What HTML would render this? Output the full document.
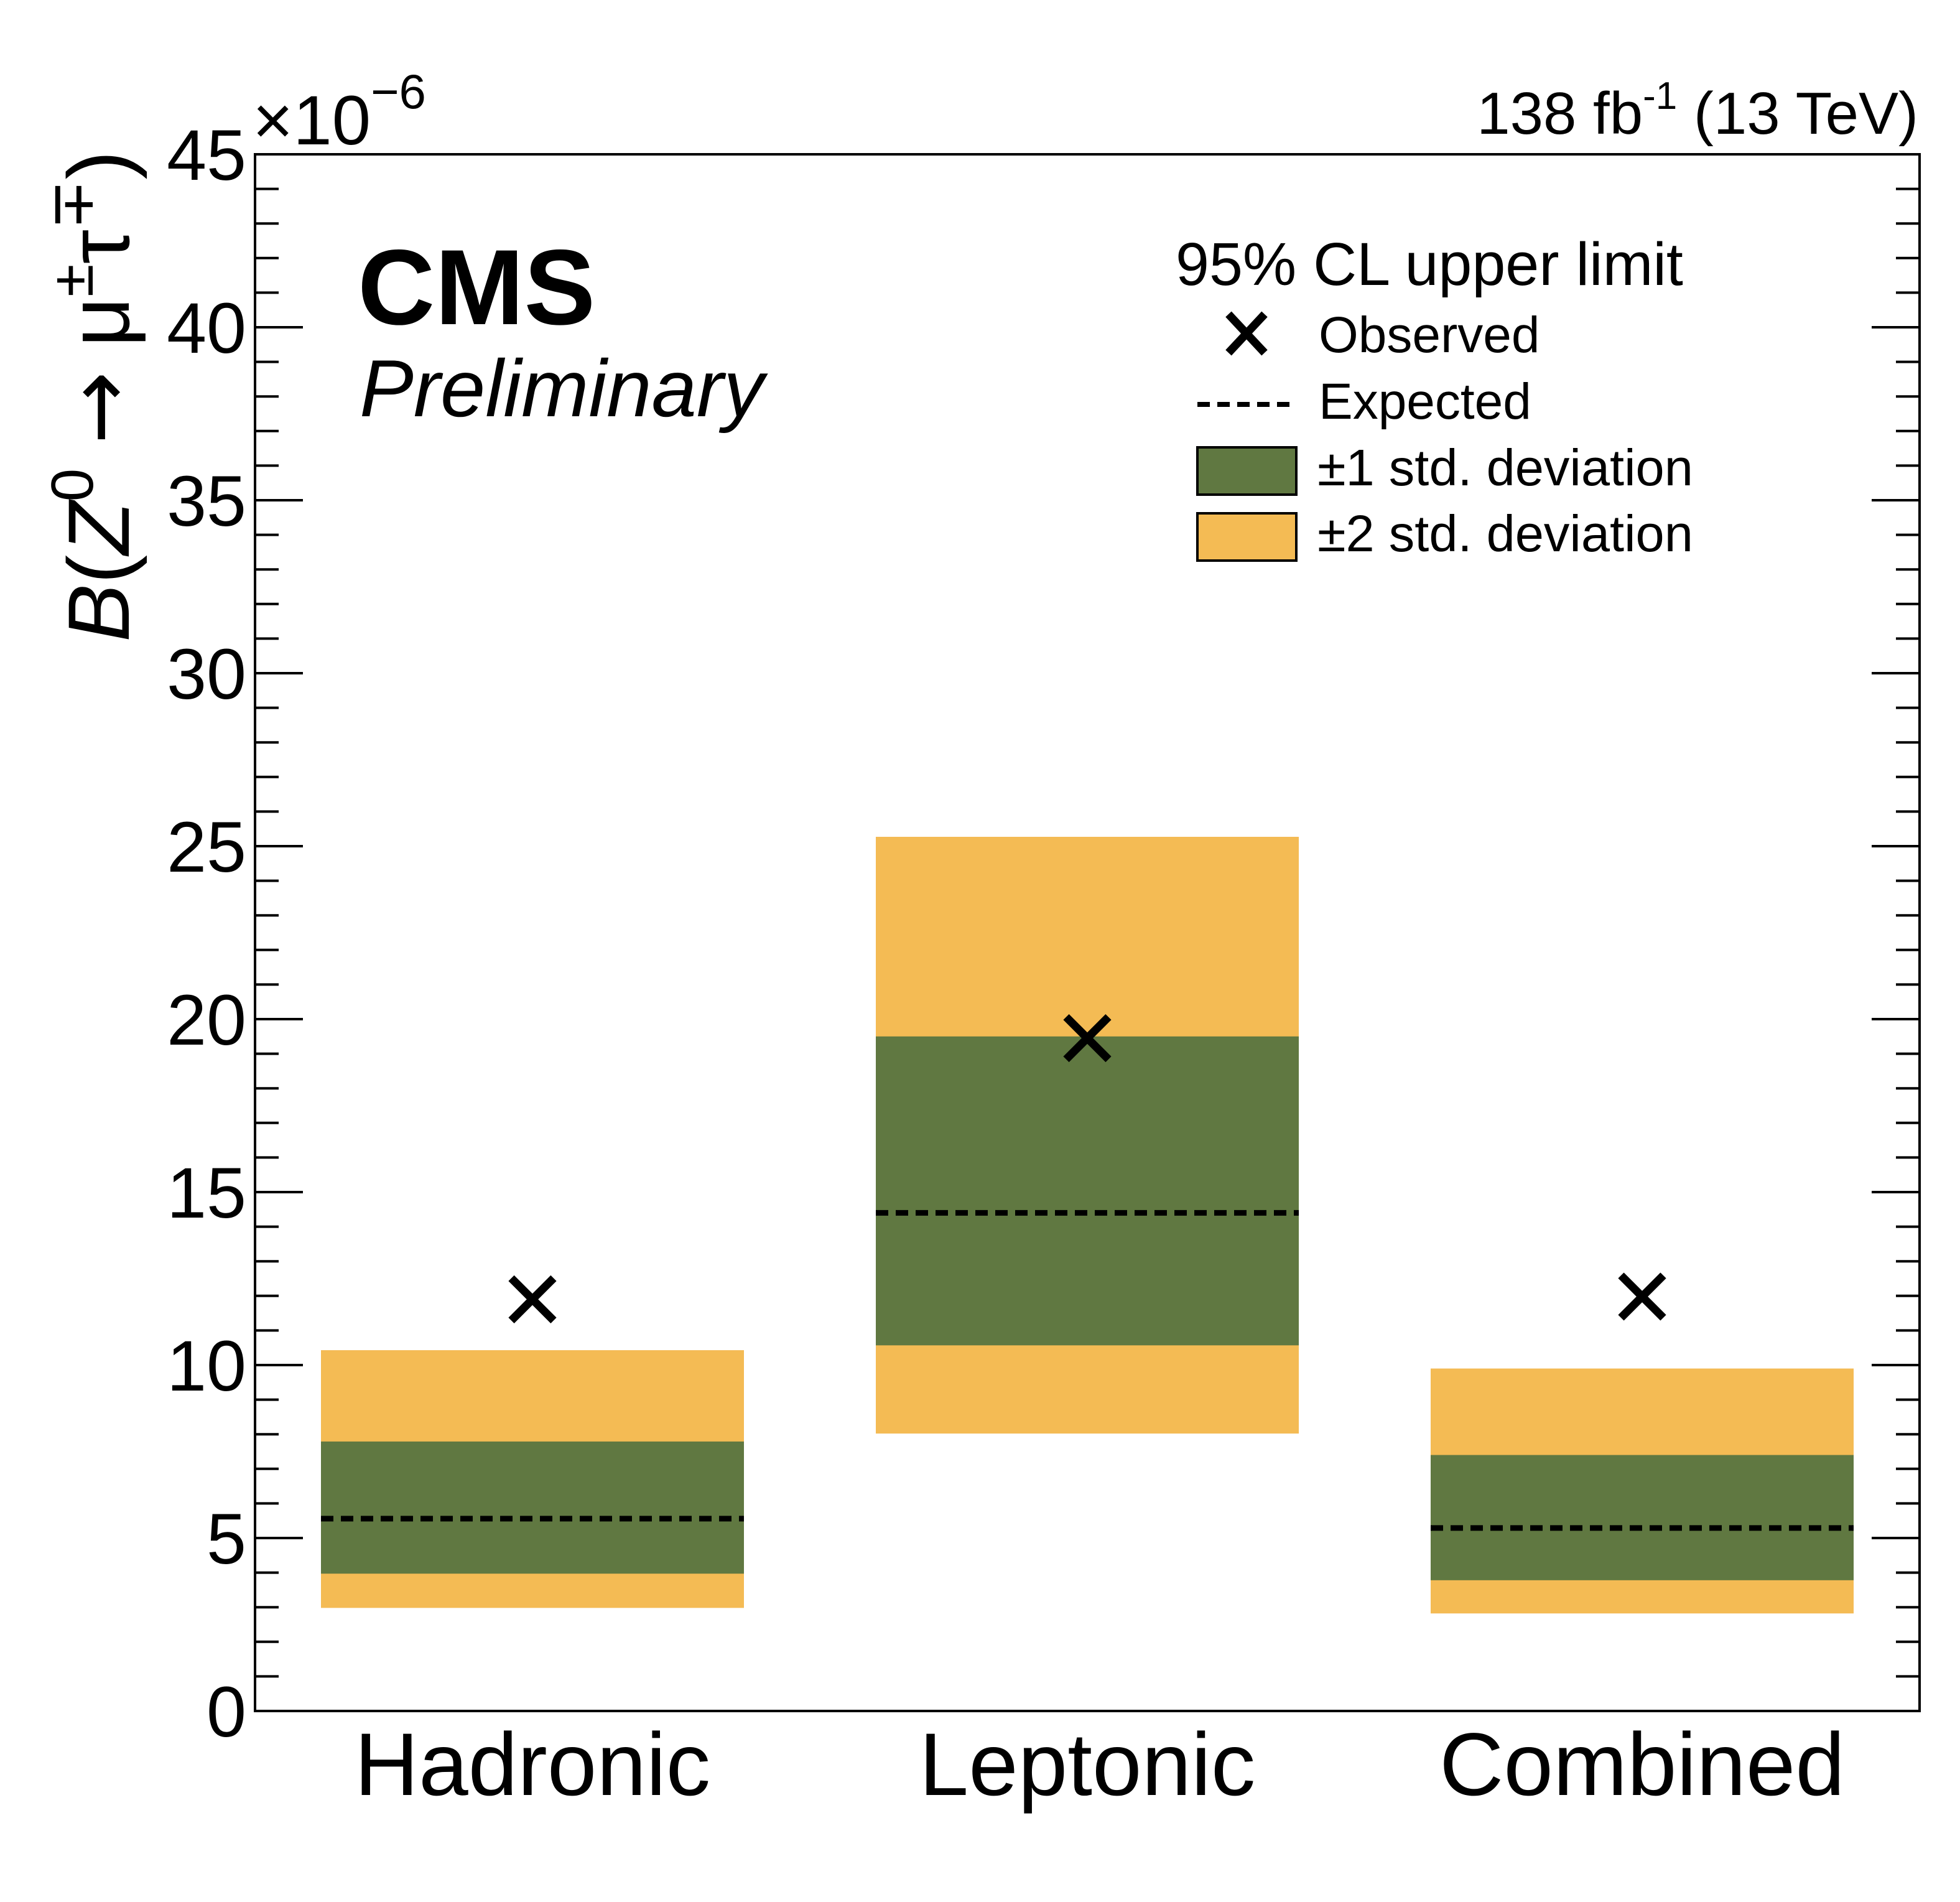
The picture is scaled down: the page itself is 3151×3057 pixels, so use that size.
<!DOCTYPE html>
<html><head><meta charset="utf-8"><style>
html,body{margin:0;padding:0;background:#fff;}
svg{display:block;font-family:"Liberation Sans",sans-serif;}
</style></head><body>
<svg id="chart" width="3151" height="3057" viewBox="0 0 3151 3057" xmlns="http://www.w3.org/2000/svg">
<g id="plot"></g>
<text x="575" y="521" font-size="172" font-weight="bold">CMS</text>
<text x="578" y="669" font-size="130" font-style="italic">Preliminary</text>
<text x="3084" y="215" font-size="96" text-anchor="end">138 fb<tspan dy="-40" font-size="62">-1</tspan><tspan dy="40"> (13 TeV)</tspan></text>
<text x="406" y="232" font-size="112">×10<tspan dy="-58" font-size="78">−6</tspan></text>
<text transform="translate(207,242) rotate(-90)" font-size="140" text-anchor="end"><tspan font-style="italic">B</tspan>(<tspan font-style="italic">Z</tspan><tspan dy="-58" font-size="96">0</tspan><tspan dy="58"> </tspan><tspan font-family="DejaVu Sans" font-weight="normal">→</tspan><tspan> μ</tspan><tspan dy="-58" font-size="96">±</tspan><tspan dy="58">τ</tspan><tspan dy="-58" font-size="96">∓</tspan><tspan dy="58">)</tspan></text>
<g>
<text x="1890" y="458" font-size="97">95% CL upper limit</text>
<g>
<path d="M1975 505 L2033 567 M2033 505 L1975 567" stroke="#000" stroke-width="13"/>
<text x="2120" y="566" font-size="82">Observed</text></g>
<g>
<line x1="1925" y1="650" x2="2078" y2="650" stroke="#000" stroke-width="8" stroke-dasharray="20,12"/>
<text x="2120" y="673" font-size="82">Expected</text></g>
<g>
<rect x="1925" y="719" width="159" height="76" fill="#607841" stroke="#000" stroke-width="4"/>
<text x="2118" y="780" font-size="83">±1 std. deviation</text></g>
<g>
<rect x="1925" y="825" width="159" height="76" fill="#F4BB54" stroke="#000" stroke-width="4"/>
<text x="2118" y="886" font-size="83">±2 std. deviation</text></g>
</g>
</svg>
<script>
const categories = ["Hadronic", "Leptonic", "Combined"];
const observed = [11.9, 19.45, 11.98];
const expected = [5.56, 14.4, 5.29];
const sigma1Low = [3.97, 10.57, 3.78];
const sigma1High = [7.79, 19.5, 7.4];
const sigma2Low = [2.98, 8.02, 2.82];
const sigma2High = [10.43, 25.27, 9.9];
const yTicks = [0, 5, 10, 15, 20, 25, 30, 35, 40, 45];

const NS = "http://www.w3.org/2000/svg";
const L = 410, R = 3086, T = 248, B = 2750, yMax = 45;
const y = v => B - (v / yMax) * (B - T);
const band = (R - L) / categories.length;
const xc = i => L + band * (i + 0.5);
const bw = 680;
const g = document.getElementById("plot");
function mk(tag, attrs) { const e = document.createElementNS(NS, tag); for (const k in attrs) e.setAttribute(k, attrs[k]); g.appendChild(e); return e; }

categories.forEach((c, i) => {
  const x0 = xc(i) - bw / 2;
  let r = mk("rect", {x: x0, y: y(sigma2High[i]), width: bw, height: y(sigma2Low[i]) - y(sigma2High[i]), fill: "#F4BB54"});
  
  
  r = mk("rect", {x: x0, y: y(sigma1High[i]), width: bw, height: y(sigma1Low[i]) - y(sigma1High[i]), fill: "#607841"});
  
  
  const l = mk("line", {x1: x0, x2: x0 + bw, y1: y(expected[i]), y2: y(expected[i]), stroke: "#000", "stroke-width": 9, "stroke-dasharray": "20,12"});
  
  
  const cx = xc(i), cy = y(observed[i]), s = 34;
  const p = mk("path", {d: `M${cx-s} ${cy-s} L${cx+s} ${cy+s} M${cx+s} ${cy-s} L${cx-s} ${cy+s}`, stroke: "#000", "stroke-width": 13});
  
  
  const t = mk("text", {x: cx, y: 2885, "font-size": 143, "text-anchor": "middle"});
  t.textContent = c;
  
  
});

const frame = mk("rect", {x: L, y: T, width: R - L, height: B - T, fill: "none", stroke: "#000", "stroke-width": 4});



for (let v = 0; v <= yMax; v += 1) {
  const major = v % 5 === 0;
  const len = major ? 77 : 38;
  const yy = y(v);
  const t1 = mk("line", {x1: L, x2: L + len, y1: yy, y2: yy, stroke: "#000", "stroke-width": 4});
  
  
  const t2 = mk("line", {x1: R - len, x2: R, y1: yy, y2: yy, stroke: "#000", "stroke-width": 4});
  
  
}
yTicks.forEach(v => {
  const t = mk("text", {x: 396, y: y(v) + 41, "font-size": 115, "text-anchor": "end"});
  t.textContent = v;
  
  
});
</script>
</body></html>
